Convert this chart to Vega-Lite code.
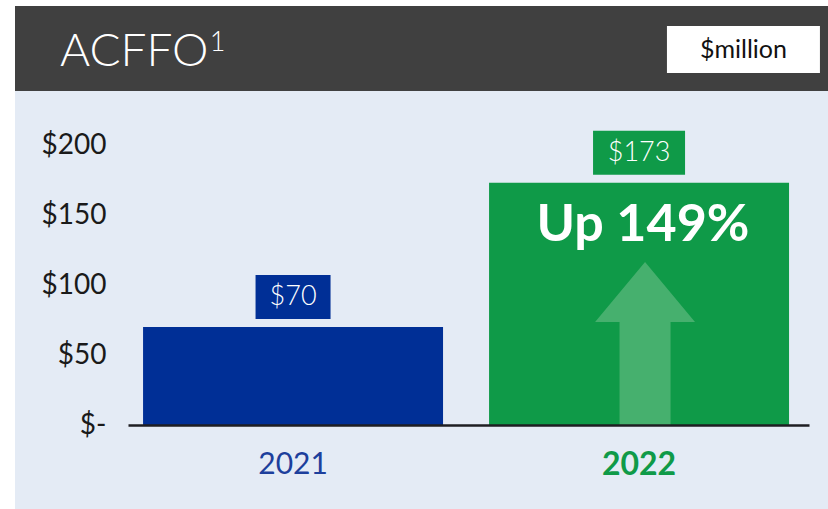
{
  "$schema": "https://vega.github.io/schema/vega-lite/v6.json",
  "width": 813,
  "height": 503,
  "autosize": {"type": "none"},
  "padding": {"left": 15, "top": 6, "right": 0, "bottom": 0},
  "background": "#ffffff",
  "config": {"view": {"fill": "#e4ebf5", "stroke": null}, "font": "Lato"},
  "datasets": {
    "acffo": [
      {"year": "2021", "value": 70, "label": "$70"},
      {"year": "2022", "value": 173, "label": "$173"}
    ],
    "note": [{"year": "2022", "text": "Up 149%"}],
    "header": [{"title": "ACFFO", "sup": "1", "unit": "$million"}]
  },
  "layer": [
    {
      "data": {"name": "header"},
      "mark": {"type": "rect", "color": "#404040"},
      "encoding": {
        "y": {"datum": 238.57, "type": "quantitative"},
        "y2": {"datum": 299.29}
      }
    },
    {
      "data": {"name": "acffo"},
      "mark": {"type": "bar"},
      "encoding": {
        "x": {
          "field": "year",
          "type": "nominal",
          "scale": {"type": "band", "domain": ["2021", "2022"], "range": [113, 794], "paddingInner": 0.133, "paddingOuter": 0.0506, "align": 0.43},
          "axis": {
            "orient": "bottom",
            "offset": -84,
            "title": null,
            "ticks": false,
            "domainColor": "#1e1e22",
            "domainWidth": 2.5,
            "labelAngle": 0,
            "labelPadding": 24,
            "labelFontSize": {"condition": {"test": "datum.value === '2022'", "value": 32}, "value": 30},
            "labelFont": "Lato",
            "labelColor": {"condition": {"test": "datum.value === '2022'", "value": "#0f9a48"}, "value": "#1d3f9c"},
            "labelFontWeight": {"condition": {"test": "datum.value === '2022'", "value": "bold"}, "value": "normal"},
            "zindex": 1
          }
        },
        "y": {
          "field": "value",
          "type": "quantitative",
          "scale": {"domain": [-60, 299.29], "nice": false, "zero": false},
          "axis": {
            "orient": "left",
            "offset": -113,
            "title": null,
            "values": [0, 50, 100, 150, 200],
            "labelExpr": "datum.value === 0 ? '$-' : '$' + datum.value",
            "ticks": false,
            "domain": false,
            "grid": false,
            "labelPadding": 22,
            "labelFontSize": 28,
            "labelFont": "Lato",
            "labelColor": "#1a1a1a"
          }
        },
        "color": {
          "field": "year",
          "type": "nominal",
          "scale": {"domain": ["2021", "2022"], "range": ["#002f96", "#0f9a48"]},
          "legend": null
        }
      }
    },
    {
      "data": {"name": "acffo"},
      "mark": {"type": "bar", "yOffset": -8, "y2Offset": -52},
      "encoding": {
        "x": {"field": "year", "type": "nominal"},
        "y": {"field": "value", "type": "quantitative"},
        "y2": {"field": "value"},
        "size": {"condition": {"test": "datum.year === '2022'", "value": 92}, "value": 75},
        "color": {"field": "year", "type": "nominal", "legend": null}
      }
    },
    {
      "data": {"name": "acffo"},
      "mark": {"type": "text", "dy": -30, "baseline": "middle", "align": "center", "fontSize": 27, "fontWeight": 300, "color": "#ffffff"},
      "encoding": {
        "x": {"field": "year", "type": "nominal"},
        "y": {"field": "value", "type": "quantitative"},
        "text": {"field": "label"}
      }
    },
    {
      "data": {"name": "note"},
      "mark": {"type": "point", "shape": "M0,-1 L0.613,-0.264 L0.313,-0.264 L0.313,1 L-0.313,1 L-0.313,-0.264 L-0.613,-0.264 Z", "filled": true, "opacity": 1, "color": "#46b06e", "strokeWidth": 0, "size": 26569},
      "encoding": {
        "x": {"field": "year", "type": "nominal", "bandPosition": 0.52},
        "y": {"datum": 58.2, "type": "quantitative"}
      }
    },
    {
      "data": {"name": "note"},
      "mark": {"type": "text", "baseline": "middle", "align": "center", "fontSize": 52, "fontWeight": "bold", "color": "#ffffff"},
      "encoding": {
        "x": {"field": "year", "type": "nominal", "bandPosition": 0.513},
        "y": {"datum": 142.9, "type": "quantitative"},
        "text": {"field": "text"}
      }
    },
    {
      "data": {"name": "header"},
      "mark": {"type": "rect", "color": "#ffffff"},
      "encoding": {
        "x": {"datum": "2022", "type": "nominal", "bandPosition": 0.593},
        "x2": {"datum": "2022", "bandPosition": 1.103},
        "y": {"datum": 251.4, "type": "quantitative"},
        "y2": {"datum": 285}
      }
    },
    {
      "data": {"name": "header"},
      "mark": {"type": "text", "baseline": "middle", "align": "center", "fontSize": 25, "color": "#111111"},
      "encoding": {
        "x": {"datum": "2022", "type": "nominal", "bandPosition": 0.848},
        "y": {"datum": 268.2, "type": "quantitative"},
        "text": {"field": "unit"}
      }
    },
    {
      "data": {"name": "header"},
      "mark": {"type": "text", "baseline": "alphabetic", "align": "left", "fontSize": 46, "fontWeight": 300, "color": "#ffffff"},
      "encoding": {
        "x": {"datum": "2021", "type": "nominal", "bandPosition": -0.277},
        "y": {"datum": 256.4, "type": "quantitative"},
        "text": {"field": "title"}
      }
    },
    {
      "data": {"name": "header"},
      "mark": {"type": "text", "baseline": "alphabetic", "align": "left", "fontSize": 27, "fontWeight": 300, "color": "#ffffff"},
      "encoding": {
        "x": {"datum": "2021", "type": "nominal", "bandPosition": 0.222},
        "y": {"datum": 267.1, "type": "quantitative"},
        "text": {"field": "sup"}
      }
    }
  ]
}
